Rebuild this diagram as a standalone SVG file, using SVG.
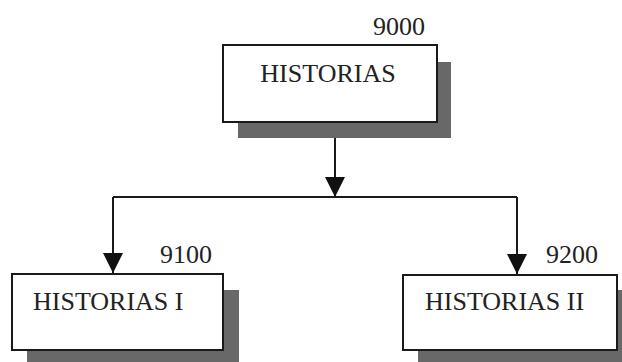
<svg xmlns="http://www.w3.org/2000/svg" width="622" height="362" viewBox="0 0 622 362">
<defs>
<style>
.box{fill:#fff;stroke:#1a1a1a;stroke-width:2}
.shadow{fill:#686868}
.t{font-family:"Liberation Serif","Times New Roman",serif;font-size:26px;fill:#222}
.c{fill:none;stroke:#1a1a1a;stroke-width:2}
</style>
<marker id="arr" viewBox="0 0 20 20" refX="20" refY="10" markerWidth="20" markerHeight="20" markerUnits="userSpaceOnUse" orient="auto">
<path d="M0,0 L20,10 L0,20 Z" fill="#111"/>
</marker>
</defs>
<rect width="622" height="362" fill="#fff"/>
<g id="connectors">
<path class="c" d="M335,122 V197" marker-end="url(#arr)"/>
<path class="c" d="M113,197 H517"/>
<path class="c" d="M113,197 V273" marker-end="url(#arr)"/>
<path class="c" d="M517,197 V274" marker-end="url(#arr)"/>
</g>
<g id="node-9000">
<rect class="shadow" x="238" y="62" width="213" height="76"/>
<rect class="box" x="223" y="45" width="214" height="77"/>
<text class="t" x="425" y="35" text-anchor="end">9000</text>
<text class="t" x="328" y="82" text-anchor="middle">HISTORIAS</text>
</g>
<g id="node-9100">
<rect class="shadow" x="27" y="290" width="212" height="72"/>
<rect class="box" x="12" y="274" width="211" height="76"/>
<text class="t" x="212" y="263" text-anchor="end">9100</text>
<text class="t" x="33" y="310">HISTORIAS I</text>
</g>
<g id="node-9200">
<rect class="shadow" x="418" y="290" width="204" height="72"/>
<rect class="box" x="403" y="275" width="214" height="75"/>
<text class="t" x="598" y="263" text-anchor="end">9200</text>
<text class="t" x="425" y="310">HISTORIAS II</text>
</g>
</svg>
